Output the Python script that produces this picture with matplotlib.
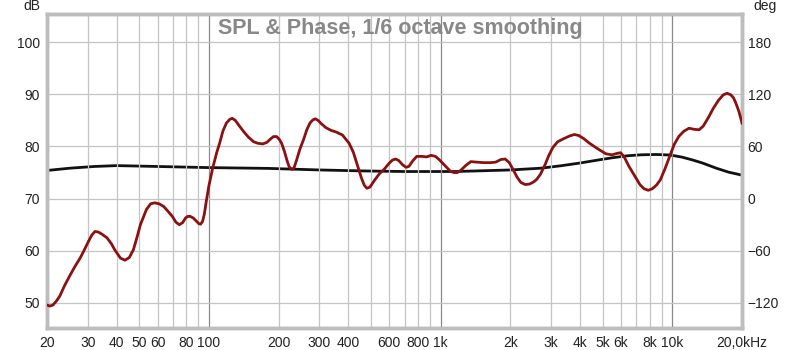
import numpy as np
import matplotlib
matplotlib.use('Agg')
import matplotlib.pyplot as plt

plt.rcParams['font.family'] = ['Liberation Sans', 'DejaVu Sans']

# SPL curve (Hz, dB)
spl_freq = [20, 20.6, 21.2, 21.9, 22.7, 23.8, 25.0, 26.4, 27.8, 29.0, 30.2, 31.2, 32.2, 33.3,
            34.5, 36.3, 38.0, 39.2, 41.5, 43.4, 45.3, 47.2, 49.0, 50.6, 53.7, 56.0, 58.4,
            61.0, 63.8, 66.5, 69.5, 72.0, 74.5, 77.0, 79.3, 81.0, 83.0, 85.5, 88.6, 90.5,
            92.0, 93.8, 95.5, 97.5, 100, 104, 108, 111.5, 115, 119, 123, 126, 130, 135,
            141.6, 148, 156, 163, 171, 178, 184, 190, 196, 201, 206, 212, 217, 222, 228,
            233, 239, 247, 256, 265, 273, 281, 288, 296, 305, 320, 336, 353, 377, 403, 420,
            437, 455, 468, 480, 495, 520, 545, 570, 600, 620, 640, 660, 685, 710, 730, 760,
            789, 830, 870, 910, 950, 985, 1020, 1060, 1100, 1140, 1180, 1220, 1280, 1350,
            1430, 1540, 1640, 1730, 1820, 1900, 1980, 2060, 2140, 2220, 2320, 2420, 2520,
            2600, 2700, 2830, 2920, 3050, 3200, 3400, 3600, 3780, 3950, 4150, 4400, 4750,
            5170, 5500, 5800, 5990, 6200, 6500, 6850, 7250, 7550, 7880, 8200, 8550, 8880,
            9300, 9800, 10200, 10660, 11200, 11810, 12400, 13050, 13600, 14300, 15030,
            15800, 16600, 17250, 17900, 18400, 18820, 19400, 20000]
spl_db = [49.6, 49.4, 49.6, 50.3, 51.3, 53.3, 55.1, 57.0, 58.6, 60.2, 61.8, 63.0, 63.7, 63.6,
          63.2, 62.5, 61.3, 60.2, 58.6, 58.2, 58.7, 60.2, 62.7, 65.0, 67.9, 69.0, 69.2,
          69.0, 68.5, 67.6, 66.6, 65.5, 65.0, 65.4, 66.3, 66.6, 66.6, 66.3, 65.6, 65.2,
          65.1, 65.6, 67.0, 69.6, 72.5, 76.0, 78.8, 80.8, 83.0, 84.5, 85.2, 85.4, 85.0, 84.0,
          82.8, 81.8, 80.9, 80.6, 80.5, 80.8, 81.4, 81.9, 81.9, 81.4, 80.6, 79.0, 77.4, 76.1,
          75.6, 75.9, 77.4, 79.5, 81.3, 83.3, 84.5, 85.1, 85.3, 85.0, 84.4, 83.6, 83.1, 82.8,
          82.2, 80.6, 78.9, 76.5, 74.0, 72.6, 72.0, 72.2, 73.6, 74.8, 75.6, 76.8, 77.4, 77.6,
          77.3, 76.5, 76.0, 76.2, 77.3, 78.1, 78.1, 78.0, 78.3, 78.1, 77.5, 76.8, 76.0, 75.3,
          75.0, 75.0, 75.4, 76.3, 77.1, 77.0, 76.9, 76.9, 77.0, 77.5, 77.6, 76.9, 75.5, 74.1,
          73.1, 72.7, 72.8, 73.2, 73.7, 74.7, 76.6, 78.1, 79.8, 80.9, 81.5, 82.0, 82.3, 82.1,
          81.5, 80.6, 79.6, 78.6, 78.4, 78.7, 78.8, 78.0, 76.2, 74.5, 72.7, 71.9, 71.6, 71.9,
          72.6, 73.6, 75.7, 78.4, 80.4, 81.9, 82.9, 83.5, 83.3, 83.2, 83.9, 85.5, 87.3, 88.8,
          89.9, 90.2, 89.9, 89.3, 88.3, 86.7, 84.5]

# phase curve (Hz, deg)
ph_freq = [20, 25, 32, 40, 60, 100, 180, 300, 480, 700, 1160, 2000, 2700, 3300, 4000,
           4800, 5500, 6400, 7300, 8500, 9800, 11000, 12200, 13500, 15500, 17500, 20000]
ph_deg = [32.4, 35.0, 37.0, 38.0, 37.0, 35.7, 34.8, 33.0, 31.8, 31.2, 31.2, 33.0, 35.0,
          37.8, 41.0, 44.5, 47.0, 49.3, 50.4, 50.8, 50.2, 47.8, 44.6, 41.0, 35.0, 30.5, 27.0]

x_major = [20, 30, 40, 50, 60, 80, 100, 200, 300, 400, 600, 800, 1000, 2000, 3000, 4000,
           5000, 6000, 8000, 10000, 20000]
x_labels = ['20', '30', '40', '50', '60', '80', '100', '200', '300', '400', '600', '800',
            '1k', '2k', '3k', '4k', '5k', '6k', '8k', '10k', '20,0kHz']
x_minor = [70, 90, 500, 700, 900, 7000, 9000]
db_ticks = [50, 60, 70, 80, 90, 100]
deg_ticks = [-120, -60, 0, 60, 120, 180]

db_lim = (45.2, 105.4)
deg_lim = ((db_lim[0] - 70) * 6, (db_lim[1] - 70) * 6)

fig = plt.figure(figsize=(8, 3.5), dpi=100)
ax = fig.add_axes([47 / 800, 1 - 328 / 350, 695 / 800, 314 / 350])
ax2 = ax.twinx()

ax.set_xscale('log')
ax.set_xlim(20, 20000)
ax.set_ylim(*db_lim)
ax2.set_ylim(*deg_lim)

ax.set_xticks(x_major)
ax.set_xticklabels(x_labels)
ax.set_xticks(x_minor, minor=True)
ax.set_xticklabels([], minor=True)
ax.set_yticks(db_ticks)
ax2.set_yticks(deg_ticks)

grid_c = '#c4c4c4'
for f in x_major[1:-1] + x_minor:
    c = '#8a8a8a' if f in (100, 1000, 10000) else grid_c
    ax.axvline(f, color=c, lw=0.9, zorder=0)
for v in db_ticks:
    ax.axhline(v, color=grid_c, lw=0.9, zorder=0)

ax.tick_params(axis='both', which='both', length=0, labelsize=10, colors='#222222')
ax.tick_params(axis='x', pad=6)
ax.tick_params(axis='y', pad=5)
ax2.tick_params(axis='y', length=0, labelsize=10, colors='#222222', pad=4)

for a in (ax, ax2):
    for s in a.spines.values():
        s.set_color('#bdbdbd')
        s.set_linewidth(2.5)

ax.plot(spl_freq, spl_db, color='#8b1010', lw=2.0, zorder=3, solid_joinstyle='round')
ax2.plot(ph_freq, ph_deg, color='#111111', lw=2.0, zorder=2, solid_joinstyle='round')
ax.set_zorder(ax2.get_zorder() + 1)
ax.patch.set_visible(False)

ax.text(0.508, 0.955, 'SPL & Phase, 1/6 octave smoothing', transform=ax.transAxes,
        ha='center', va='center', fontsize=15.5, fontweight='bold', color='#888888')
fig.text(32 / 800, 1 - 6 / 350, 'dB', ha='center', va='center', fontsize=10, color='#222222')
fig.text(765 / 800, 1 - 6 / 350, 'deg', ha='center', va='center', fontsize=10, color='#222222')

fig.savefig('out.png', dpi=100, facecolor='white')
